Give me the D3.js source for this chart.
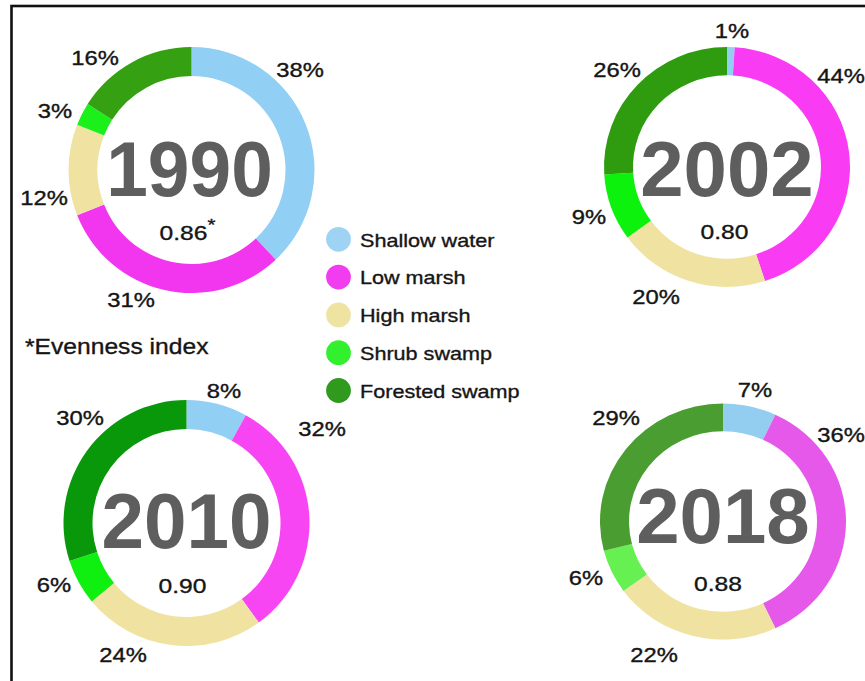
<!DOCTYPE html>
<html>
<head>
<meta charset="utf-8">
<script src="https://cdn.jsdelivr.net/npm/d3@7"></script>
<style>
  html, body { margin: 0; padding: 0; background: #fff; overflow: hidden; }
  svg { display: block; }
</style>
</head>
<body>
<svg id="chart" width="865" height="681"></svg>
<script>
// ---------------- data ----------------
const years = ["1990", "2002", "2010", "2018"];
const categories = ["Shallow water", "Low marsh", "High marsh", "Shrub swamp", "Forested swamp"];
const share1990 = [38, 31, 12, 3, 16];
const share2002 = [1, 44, 20, 9, 26];
const share2010 = [8, 32, 24, 6, 30];
const share2018 = [7, 36, 22, 6, 29];
const evenness = ["0.86", "0.80", "0.90", "0.88"];
const evennessNote = "*Evenness index";

// ---------------- styling / layout ----------------
const legendColors = ["#9ed3f4", "#f23cf0", "#efe3a2", "#33f02e", "#2f9a1e"];
const palettes = {
  "1990": ["#92cff4", "#f236ef", "#f0e3a2", "#1cf01a", "#34a012"],
  "2002": ["#92cff4", "#f93cf3", "#f0e3a2", "#0cf20c", "#2f9c10"],
  "2010": ["#92cff4", "#f845f4", "#f0e3a2", "#10f010", "#08980a"],
  "2018": ["#93cdf0", "#e658e9", "#f0e3a2", "#66f052", "#4a9d31"]
};
const layout = {
  "1990": { cx: 191.5, cy: 170, sy: 1.0,  yearDx: -2, yearDy: 26, yearSx: 0.96, evX: -4, evY: 70 },
  "2002": { cx: 727,   cy: 167, sy: 0.975, yearDx: 0, yearDy: 29, yearSx: 1.0, evX: -2.5, evY: 72 },
  "2010": { cx: 186.5, cy: 523, sy: 1.0,  yearDx: 0, yearDy: 25, yearSx: 0.98, evX: -4, evY: 70 },
  "2018": { cx: 723,   cy: 521.5, sy: 0.96, yearDx: 0, yearDy: 21, yearSx: 1.0, evX: -5, evY: 69 }
};
// label anchor offsets (dx, baseline dy) from donut centre, per category order
const labelOffsets = {
  "1990": [[108.5, -93], [-60.5, 137], [-147.5, 35], [-136.5, -52], [-96.5, -105]],
  "2002": [[5, -129], [114, -84], [-71, 137], [-138, 57], [-110, -90]],
  "2010": [[37.5, -125], [135.5, -87], [-63.5, 139], [-132.5, 69], [-106.5, -98]],
  "2018": [[32, -124.5], [118, -79.5], [-69, 140.5], [-137, 63.5], [-107, -96.5]]
};
const shares = { "1990": share1990, "2002": share2002, "2010": share2010, "2018": share2018 };

const FONT = "'Liberation Sans', Arial, Helvetica, sans-serif";
const svg = d3.select("#chart");

// frame (only top and left edges visible)
svg.append("rect")
  .attr("x", 11.5).attr("y", 6)
  .attr("width", 900).attr("height", 700)
  .attr("fill", "none").attr("stroke", "#111").attr("stroke-width", 2.6);

const pie = d3.pie().sort(null).value(d => d).startAngle(0).endAngle(2 * Math.PI);
const arc = d3.arc().innerRadius(94).outerRadius(123);

function sText(g, x, y, txt, size, sx, opts = {}) {
  return g.append("text")
    .attr("transform", `translate(${x},${y}) scale(${sx},1)`)
    .attr("text-anchor", opts.anchor || "middle")
    .attr("font-family", FONT)
    .attr("font-size", size)
    .attr("font-weight", opts.weight || "normal")
    .attr("fill", opts.fill || "#151515")
    .attr("stroke", opts.fill || "#151515")
    .attr("stroke-width", 0.35)
    .text(txt);
}

years.forEach((yr, yi) => {
  const L = layout[yr];
  const vals = shares[yr];
  const g = svg.append("g").attr("transform", `translate(${L.cx},${L.cy})`);
  const ring = g.append("g").attr("transform", `scale(1,${L.sy})`);
  ring.selectAll("path")
    .data(pie(vals))
    .join("path")
    .attr("d", arc)
    .attr("fill", (d, i) => palettes[yr][i]);

  // year label
  g.append("text")
    .attr("transform", `translate(${L.yearDx},${L.yearDy}) scale(${L.yearSx},1)`)
    .attr("text-anchor", "middle")
    .attr("font-family", FONT)
    .attr("font-weight", "bold")
    .attr("font-size", 78)
    .attr("fill", "#5e5e5e")
    .text(yr);

  // evenness
  const ev = sText(g, L.evX, L.evY, evenness[yi], 20.5, 1.2);
  if (yi === 0) {
    ev.append("tspan").attr("font-size", 17).attr("dy", -9).text("*");
  }

  // percent labels
  vals.forEach((v, i) => {
    const o = labelOffsets[yr][i];
    sText(g, o[0], o[1], v + "%", 19.5, 1.22);
  });
});

// evenness note
sText(svg, 25, 354, evennessNote, 22, 1.12, { anchor: "start" });

// legend
const legend = svg.append("g");
categories.forEach((c, i) => {
  const y = 239.3 + i * 37.8;
  legend.append("circle").attr("cx", 338.5).attr("cy", y).attr("r", 12.4).attr("fill", legendColors[i]);
  sText(legend, 360, y + 7.3, c, 18, 1.2, { anchor: "start" });
});
</script>
</body>
</html>
